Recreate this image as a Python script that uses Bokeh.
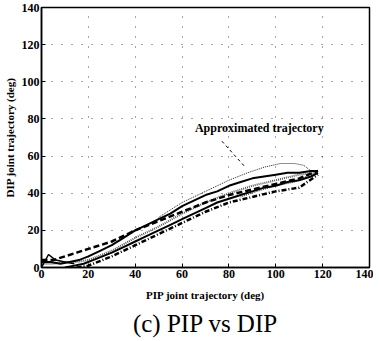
from bokeh.plotting import figure
from bokeh.models import Range1d, Title, FixedTicker
from bokeh.embed import file_html
from bokeh.resources import INLINE
from bokeh.core.properties import value

# ---- data ----
ticks = [0, 20, 40, 60, 80, 100, 120, 140]

pip_a = [0, 4, 8, 12, 16, 20, 25, 30, 35, 40, 45, 50, 55, 60, 65, 70, 75, 80, 85, 90, 95, 100, 105, 110, 115, 118]
dip_a = [3, 3, 2, 3, 4, 6, 9, 12, 16, 20, 23, 26, 29, 33, 36, 39, 41, 44, 46, 48, 49, 50, 51, 51, 52, 52]

pip_b = [10, 14, 18, 22, 26, 30, 35, 40, 45, 50, 55, 60, 65, 70, 75, 80, 85, 90, 95, 100, 105, 110, 115, 118]
dip_b = [0, 1, 2, 4, 6, 8, 11, 14, 17, 20, 23, 26, 29, 32, 35, 37, 39, 41, 43, 44, 46, 47, 49, 51]

pip_c = [0, 5, 10, 15, 20, 25, 30, 35, 40, 50, 60, 70, 80, 90, 100, 110, 118]
dip_c = [4, 4, 6, 8, 10, 12, 14, 17, 20, 25, 30, 35, 39, 42, 45, 48, 52]

pip_d = [50, 60, 70, 80, 88, 95, 102, 108, 112, 115, 113, 108, 100, 92, 85]
dip_d = [27, 35, 41, 47, 51, 54, 56, 56, 55, 52, 49, 46, 44, 41, 38]

pip_e = [0, 5, 10, 15, 20, 30, 40, 50, 60, 70, 80, 90, 100, 110, 118]
dip_e = [2, 2, 3, 3, 4, 9, 16, 22, 29, 35, 40, 44, 47, 50, 51]

pip_f = [15, 20, 30, 40, 50, 60, 70, 80, 90, 100, 110, 118]
dip_f = [0, 1, 6, 12, 18, 24, 30, 35, 38, 41, 43, 50]

pip_g = [0, 3, 6, 10, 14]
dip_g = [0, 7, 4, 3, 2]

note_x = [65.5]
note_y = [75]
note_text = ["Approximated trajectory"]
arrow_x0, arrow_y0, arrow_x1, arrow_y1 = [77], [68], [87], [54]

serif = "Liberation Serif"

p = figure(frame_width=328, frame_height=260, output_backend="svg", toolbar_location=None,
           x_range=Range1d(0, 140), y_range=Range1d(0, 140),
           min_border_left=4, min_border_top=7, min_border_right=4, min_border_bottom=4)
p.background_fill_color = "white"
p.outline_line_color = "black"
p.outline_line_width = 1.5

for ax in (p.xaxis[0], p.yaxis[0]):
    ax.ticker = FixedTicker(ticks=ticks)
    ax.major_label_text_font = serif
    ax.major_label_text_font_style = "bold"
    ax.major_label_text_font_size = "12px"
    ax.major_label_text_color = "black"
    ax.major_tick_out = 0
    ax.major_tick_in = 4
    ax.minor_tick_out = 0
    ax.minor_tick_in = 0
    ax.axis_line_width = 1.5
    ax.axis_label_text_font = serif
    ax.axis_label_text_font_style = "bold"
    ax.axis_label_text_font_size = "11px"
    ax.axis_label_text_color = "black"
    ax.major_label_standoff = 2

p.xaxis[0].axis_label_standoff = 8
p.yaxis[0].axis_label_standoff = 3

p.xaxis.axis_label = "PIP joint trajectory (deg)"
p.yaxis.axis_label = "DIP joint trajectory (deg)"

p.grid.grid_line_color = "black"
p.grid.grid_line_dash = "1 9"
p.grid.grid_line_width = 1
p.grid.grid_line_alpha = 0.7

p.line(pip_d, dip_d, line_color="#222222", line_width=1, line_dash="1 1")
p.line(pip_e, dip_e, line_color="#555555", line_width=2, line_dash="1 1")
p.line(pip_a, dip_a, line_color="black", line_width=2)
p.line(pip_b, dip_b, line_color="black", line_width=2)
p.line(pip_c, dip_c, line_color="black", line_width=2.5, line_dash="6 3")
p.line(pip_f, dip_f, line_color="black", line_width=2.5, line_dash="5 2 1 2")
p.line(pip_g, dip_g, line_color="black", line_width=1.5)

p.text(note_x, note_y, text=note_text, text_font=value(serif), text_font_style="bold",
       text_font_size="12px", text_align="left", text_baseline="middle", text_color="black")
p.segment(arrow_x0, arrow_y0, arrow_x1, arrow_y1, line_color="black", line_width=1, line_dash="3 3")

cap = Title(text="(c) PIP vs DIP", align="center", text_font=serif, text_font_size="25px",
            text_font_style="normal", text_color="black", standoff=8)
p.add_layout(cap, "below")

open("out.html", "w").write(file_html(p, INLINE))
